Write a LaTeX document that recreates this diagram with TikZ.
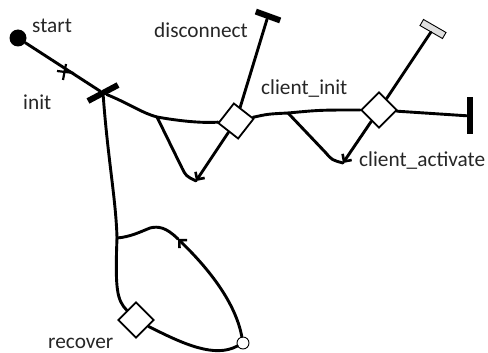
\documentclass[tikz,border=0pt]{standalone}
\usepackage{fontspec}
\setmainfont{Carlito}
\usetikzlibrary{shapes.geometric,arrows.meta}
\tikzset{
  conn/.style={line width=2.9pt, line cap=round, line join=round},
  arr/.style={conn, -{Straight Barb[length=5.5pt,width=11pt,line width=2.6pt]}},
  blackbar/.style={rectangle, fill=black, draw=none, inner sep=0pt},
  greybar/.style={rectangle, fill=gray!25, draw=black, line width=0.9pt, inner sep=0pt},
  choice/.style={diamond, draw=black, fill=white, line width=1.8pt, inner sep=0pt, minimum width=36pt, minimum height=36pt},
  lbl/.style={font=\fontsize{21.3}{24}\selectfont, inner sep=0pt, anchor=base west, text=black!85}
}
\begin{document}
\begin{tikzpicture}[x=1pt,y=-1pt]
\useasboundingbox (0,0) rectangle (488,353);
% nodes
\node[circle, fill=black, inner sep=0pt, minimum size=17pt] (start) at (18,38) {};
\node[blackbar, minimum width=34pt, minimum height=6pt, rotate=28] (initbar) at (103,93) {};
\node[choice, rotate=7] (d1) at (236,121) {};
\node[choice] (d2) at (379,110) {};
\node[choice] (d3) at (136,320) {};
\node[blackbar, minimum width=26pt, minimum height=6pt, rotate=-20] (disc) at (268,16) {};
\node[greybar, minimum width=26pt, minimum height=7pt, rotate=-30] (gbar) at (433,29) {};
\node[blackbar, minimum width=6pt, minimum height=37pt] (rbar) at (470,116) {};
\node[circle, draw=black, fill=white, line width=0.9pt, inner sep=0pt, minimum size=12pt] (circ) at (243,343) {};
\coordinate (mark) at (65,72);
\coordinate (b1) at (157,117);
\coordinate (b2) at (288,113);
\coordinate (tip1) at (196,181);
\coordinate (tip2) at (343,163);
\coordinate (j) at (117,238);
\coordinate (a3) at (178,239);
% labels
\node[lbl] (lstart) at (32,33) {start};
\node[lbl] (ldisc) at (154,38) {disconnect};
\node[lbl] (linit) at (23,110) {init};
\node[lbl] (lcinit) at (261,95) {client\_init};
\node[lbl] (lcact) at (359,167) {client\_activate};
\node[lbl] (lrec) at (48,348) {recover};
% connectors
\draw[conn] (start) -- (initbar);
\draw[line width=2.2pt] ([shift={(-8,-1)}]mark) -- ([shift={(9,1)}]mark);
\draw[line width=2.2pt] ([shift={(1,-8)}]mark) -- ([shift={(-2,8)}]mark);
\draw[conn] (initbar) .. controls (130,104) and (142,113) .. (b1) .. controls (185,122) and (205,123) .. (d1);
\draw[conn] (b1) -- (182,168) .. controls (186,176) .. (tip1);
\draw[arr] (d1) -- (tip1);
\draw[conn] (d1) -- (disc);
\draw[conn] (d1) .. controls (268,114) .. (b2) .. controls (320,110) .. (d2);
\draw[conn] (b2) -- (326,153) .. controls (332,160) .. (tip2);
\draw[arr] (d2) -- (tip2);
\draw[conn] (d2) -- (gbar);
\draw[conn] (d2) -- (rbar);
\draw[conn] (initbar) .. controls (108,160) and (116,200) .. (j);
\draw[conn] (j) .. controls (115,290) and (117,300) .. (d3);
\draw[conn] (d3) .. controls (185,345) and (215,358) .. (circ);
\draw[arr] (circ) .. controls (235,300) and (205,265) .. (a3);
\draw[conn] (a3) .. controls (166,227) and (158,226) .. (150,228) .. controls (140,232) and (130,237) .. (j);
\end{tikzpicture}
\end{document}
